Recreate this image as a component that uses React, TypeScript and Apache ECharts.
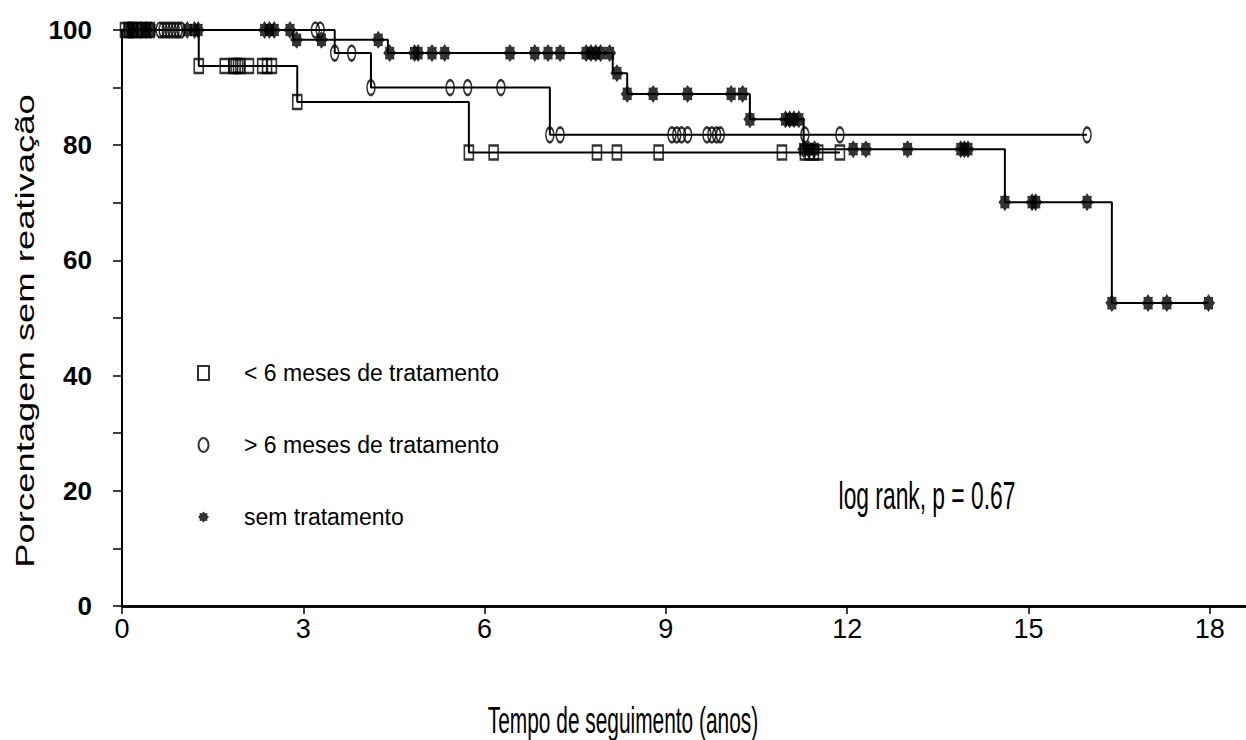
import React, { useEffect, useRef } from "react";
import * as echarts from "echarts";

// Axis ticks
const xTickLabels = [0, 3, 6, 9, 12, 15, 18];
const yTickLabels = [0, 20, 40, 60, 80, 100];

const seriesNames = [
  "< 6 meses de tratamento",
  "> 6 meses de tratamento",
  "sem tratamento",
];

// < 6 meses de tratamento: Kaplan-Meier steps (time in years, % without reactivation)
const shortEventTimes = [0, 1.27, 2.9, 5.74, 11.88];
const shortSurvival = [100, 93.75, 87.5, 78.75, 78.75];
const shortCensored = [
  0.05, 0.11, 0.18, 0.25, 0.32, 0.39, 0.46, 1.27, 1.7, 1.84, 1.88, 1.92, 1.96,
  2.1, 2.32, 2.4, 2.48, 2.9, 5.74, 6.15, 7.86, 8.19, 8.88, 10.92, 11.3, 11.38,
  11.45, 11.52, 11.88,
];

// > 6 meses de tratamento
const longEventTimes = [0, 3.52, 4.12, 7.08, 15.97];
const longSurvival = [100, 96.0, 90.0, 81.8, 81.8];
const longCensored = [
  0.15, 0.63, 0.68, 0.73, 0.78, 0.83, 0.88, 0.93, 0.98, 3.2, 3.28, 3.52, 3.8,
  4.12, 5.43, 5.72, 6.27, 7.08, 7.25, 9.1, 9.18, 9.26, 9.36, 9.68, 9.76, 9.84,
  9.9, 11.3, 11.88, 15.97,
];

// sem tratamento
const untreatedEventTimes = [0, 2.83, 4.4, 8.12, 8.36, 10.39, 11.28, 14.61, 16.38, 17.98];
const untreatedSurvival = [100, 98.3, 96.0, 92.5, 88.9, 84.5, 79.3, 70.1, 52.6, 52.6];
const untreatedCensored = [
  0.1, 0.2, 0.3, 0.4, 0.48, 1.08, 1.2, 1.26, 2.36, 2.44, 2.52, 2.78, 2.89, 3.3,
  4.24, 4.43, 4.84, 4.9, 5.13, 5.34, 6.42, 6.83, 7.05, 7.25, 7.68, 7.76, 7.84,
  7.92, 8.07, 8.19, 8.36, 8.79, 9.36, 10.08, 10.27, 10.39, 10.98, 11.05, 11.12,
  11.2, 11.28, 11.36, 11.46, 12.1, 12.31, 13.0, 13.88, 13.94, 14.0, 14.61,
  15.06, 15.12, 15.97, 16.38, 16.98, 17.29, 17.98,
];

// heavy asterisk: eight-pointed star with a wide body
const ASTERISK =
  "path://M5,0 L6.5,1.6 L8.54,1.46 L8.4,3.5 L10,5 L8.4,6.5 L8.54,8.54 L6.5,8.4 L5,10 L3.5,8.4 L1.46,8.54 L1.6,6.5 L0,5 L1.6,3.5 L1.46,1.46 L3.5,1.6 Z";
const ELLIPSE = "path://M5,0 A5,7 0 1,1 5,14 A5,7 0 1,1 5,0 Z";

const SANS = "'Liberation Sans', Arial, sans-serif";

// value of the step function at time t
function survivalAt(times: number[], values: number[], t: number): number {
  let v = values[0];
  for (let i = 0; i < times.length; i++) {
    if (times[i] <= t + 1e-9) v = values[i];
  }
  return v;
}

function curve(name: string, times: number[], values: number[]) {
  return {
    type: "line",
    name,
    step: "end",
    data: times.map((t, i) => [t, values[i]]),
    symbol: "none",
    silent: true,
    lineStyle: { color: "#000", width: 2 },
    z: 2,
  };
}

function marks(
  name: string,
  censored: number[],
  times: number[],
  values: number[],
  symbol: string,
  size: number[],
  itemStyle: Record<string, unknown>
) {
  return {
    type: "scatter",
    name,
    data: censored.map((t) => [t, survivalAt(times, values, t)]),
    symbol,
    symbolSize: size,
    itemStyle,
    z: 3,
  };
}

export default function App() {
  const ref = useRef<HTMLDivElement>(null);

  useEffect(() => {
    if (!ref.current) return;
    const chart = echarts.init(ref.current, undefined, { renderer: "svg" });
    const hollow = { color: "rgba(0,0,0,0)", borderColor: "#000", borderWidth: 2 };

    chart.setOption({
      animation: false,
      backgroundColor: "#fff",
      grid: { left: 122, right: 0, top: 30, bottom: 134 },
      xAxis: [
        {
          type: "value",
          min: 0,
          max: 18.6,
          interval: 3,
          position: "bottom",
          axisLine: { show: true, onZero: false, lineStyle: { color: "#000", width: 2.5 } },
          axisTick: { show: true, length: 8, customValues: xTickLabels, lineStyle: { color: "#000", width: 1.5 } },
          axisLabel: {
            customValues: xTickLabels,
            margin: 9,
            fontFamily: SANS,
            fontSize: 27,
            color: "#000",
          },
          splitLine: { show: false },
        },
        {
          type: "value",
          min: 0,
          max: 18.6,
          position: "top",
          axisLine: { show: true, lineStyle: { color: "#000", width: 2.5 } },
          axisTick: { show: false },
          axisLabel: { show: false },
          splitLine: { show: false },
        },
      ],
      yAxis: {
        type: "value",
        min: 0,
        max: 100,
        interval: 10,
        axisLine: { show: true, lineStyle: { color: "#000", width: 2 } },
        axisTick: { show: true, length: 9, lineStyle: { color: "#000", width: 1.5 } },
        axisLabel: {
          customValues: yTickLabels,
          margin: 30,
          fontFamily: SANS,
          fontWeight: "bold",
          fontSize: 26,
          color: "#000",
        },
        splitLine: { show: false },
      },
      legend: {
        orient: "vertical",
        left: 197,
        top: 358,
        padding: 0,
        itemGap: 42,
        itemWidth: 11,
        itemHeight: 14,
        selectedMode: false,
        data: [
          { name: seriesNames[0], icon: "rect" },
          { name: seriesNames[1], icon: ELLIPSE },
          { name: seriesNames[2], icon: ASTERISK },
        ],
        textStyle: {
          fontFamily: SANS,
          fontSize: 23,
          lineHeight: 30,
          color: "#000",
          padding: [0, 0, 0, 30],
        },
      },
      graphic: [
        {
          type: "text",
          x: 25,
          y: 331,
          rotation: Math.PI / 2,
          scaleX: 1.4,
          style: {
            text: "Porcentagem sem reativação",
            fontFamily: SANS,
            fontSize: 26,
            fill: "#000",
            align: "center",
            verticalAlign: "middle",
            textAlign: "center",
            textVerticalAlign: "middle",
          },
        },
        {
          type: "text",
          x: 623,
          y: 719,
          scaleX: 0.87,
          scaleY: 1.57,
          style: {
            text: "Tempo de seguimento (anos)",
            fontFamily: SANS,
            fontSize: 24,
            fill: "#000",
            align: "center",
            verticalAlign: "middle",
            textAlign: "center",
            textVerticalAlign: "middle",
          },
        },
        {
          type: "text",
          x: 927,
          y: 496,
          scaleX: 0.95,
          scaleY: 1.62,
          style: {
            text: "log rank, p = 0.67",
            fontFamily: SANS,
            fontSize: 24,
            fill: "#000",
            align: "center",
            verticalAlign: "middle",
            textAlign: "center",
            textVerticalAlign: "middle",
          },
        },
      ],
      series: [
        curve("curva < 6 meses", shortEventTimes, shortSurvival),
        curve("curva > 6 meses", longEventTimes, longSurvival),
        curve("curva sem tratamento", untreatedEventTimes, untreatedSurvival),
        marks(seriesNames[0], shortCensored, shortEventTimes, shortSurvival, "rect", [9, 14], hollow),
        marks(seriesNames[1], longCensored, longEventTimes, longSurvival, ELLIPSE, [8, 15], hollow),
        marks(seriesNames[2], untreatedCensored, untreatedEventTimes, untreatedSurvival, ASTERISK, [13, 18], {
          color: "#000",
        }),
      ],
    });

    return () => chart.dispose();
  }, []);

  return (
    <div
      ref={ref}
      style={{ position: "absolute", left: 0, top: 0, width: 1246, height: 740, background: "#fff" }}
    />
  );
}
